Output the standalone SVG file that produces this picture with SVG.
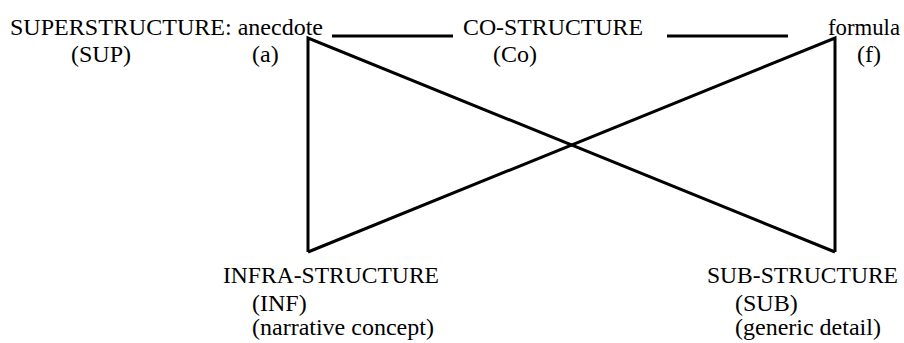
<svg xmlns="http://www.w3.org/2000/svg" width="904" height="343" viewBox="0 0 904 343">
<style>
text{font-family:'Liberation Serif','Times New Roman',serif;font-size:24px;fill:#000}
.ln{stroke:#000;stroke-width:3;fill:none;stroke-linejoin:miter}
</style>
<rect width="904" height="343" fill="#fff"/>
<g id="connectors">
<line class="ln" x1="332" y1="36" x2="453" y2="36"/>
<line class="ln" x1="667" y1="36" x2="788" y2="36"/>
<polyline class="ln" points="308,252 308,38 835,252"/>
<polyline class="ln" points="835,252 835,38 308,252"/>
</g>
<g id="sup">
<text x="10" y="35" textLength="313" lengthAdjust="spacingAndGlyphs">SUPERSTRUCTURE: anecdote</text>
<text x="71" y="62">(SUP)</text>
<text x="252" y="62">(a)</text>
</g>
<g id="co">
<text x="463" y="35" textLength="180" lengthAdjust="spacingAndGlyphs">CO-STRUCTURE</text>
<text x="493" y="62">(Co)</text>
</g>
<g id="f">
<text x="828" y="35" textLength="72" lengthAdjust="spacingAndGlyphs">formula</text>
<text x="857" y="62">(f)</text>
</g>
<g id="inf">
<text x="223" y="283" textLength="216" lengthAdjust="spacingAndGlyphs">INFRA-STRUCTURE</text>
<text x="252" y="311">(INF)</text>
<text x="252" y="335">(narrative concept)</text>
</g>
<g id="sub">
<text x="707" y="283" textLength="191" lengthAdjust="spacingAndGlyphs">SUB-STRUCTURE</text>
<text x="735" y="311">(SUB)</text>
<text x="735" y="335">(generic detail)</text>
</g>
</svg>
